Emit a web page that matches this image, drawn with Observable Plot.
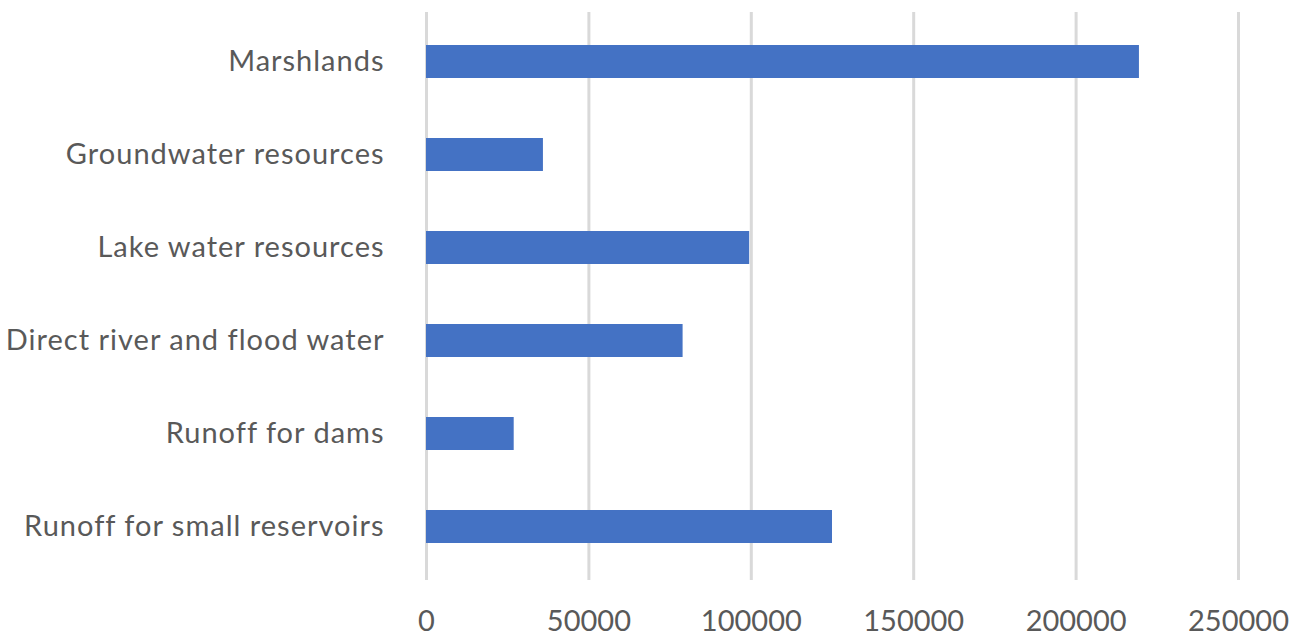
<!DOCTYPE html>
<html>
<head>
<meta charset="utf-8">
<script src="https://cdn.jsdelivr.net/npm/d3@7"></script>
<script src="https://cdn.jsdelivr.net/npm/@observablehq/plot@0.6"></script>
<style>
  html, body { margin: 0; padding: 0; background: #fff; }
  #chart svg { display: block; }
</style>
</head>
<body>
<div id="chart"></div>
<script>
const categories = [
  "Marshlands",
  "Groundwater resources",
  "Lake water resources",
  "Direct river and flood water",
  "Runoff for dams",
  "Runoff for small reservoirs"
];
const values = [219500, 36000, 99500, 79000, 27000, 125000];
const xTicks = [0, 50000, 100000, 150000, 200000, 250000];

const data = categories.map((c, i) => ({category: c, value: values[i]}));

const chart = Plot.plot({
  width: 1305,
  height: 637,
  marginLeft: 426,
  marginRight: 67,
  marginTop: 14,
  marginBottom: 62,
  style: {fontFamily: "Lato, 'Open Sans', sans-serif", fontSize: "29px", color: "#595959", background: "#fff"},
  x: {domain: [0, 250000], ticks: xTicks, tickFormat: d => String(d), label: null},
  y: {domain: categories, paddingInner: 0.64, paddingOuter: 0.32, label: null},
  marks: [
    Plot.ruleX(xTicks, {stroke: "#d9d9d9", strokeWidth: 3, insetTop: -2, insetBottom: -5}),
    Plot.barX(data, {x: "value", y: "category", fill: "#4472c4"}),
    Plot.axisX({ticks: xTicks, tickSize: 0, tickPadding: 35, tickFormat: d => String(d), fill: "#595959", fontSize: 29, label: null}),
    Plot.axisY({tickSize: 0, tickPadding: 42, fill: "#595959", fontSize: 29, label: null})
  ]
});
d3.select(chart).selectAll('g[aria-label="y-axis tick label"] text').attr("letter-spacing", "1px");
document.getElementById("chart").append(chart);
</script>
</body>
</html>
